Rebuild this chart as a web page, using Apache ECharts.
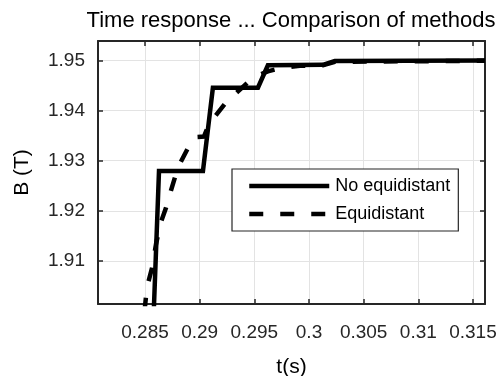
<!DOCTYPE html>
<html>
<head>
<meta charset="utf-8">
<script src="https://cdn.jsdelivr.net/npm/echarts@6/dist/echarts.min.js"></script>
<style>
  html, body { margin: 0; padding: 0; background: #fff; }
  #chart { width: 498px; height: 376px; }
</style>
</head>
<body>
<div id="chart"></div>
<script>
// Flux density B (T) against time t (s) for the two sampling methods
const tNoEquidistant = [0.2858, 0.28628, 0.29030, 0.29121, 0.29533, 0.29624, 0.29900, 0.30127, 0.30236, 0.3161];
const bNoEquidistant = [1.8999, 1.92795, 1.92795, 1.94453, 1.94453, 1.94900, 1.94905, 1.94910, 1.94984, 1.94995];

const tEquidistant = [0.28495, 0.28518, 0.28564, 0.28601, 0.28643, 0.28692, 0.28738, 0.28802, 0.28893, 0.28957,
                      0.29039, 0.29085, 0.29240, 0.29341, 0.29441, 0.29533, 0.29624, 0.29734, 0.29916, 0.30127,
                      0.30236, 0.3161];
const bEquidistant = [1.8999, 1.9048, 1.9086, 1.9134, 1.9176, 1.9206, 1.9241, 1.9287, 1.9325, 1.9347,
                      1.9348, 1.9373, 1.9416, 1.9436, 1.9456, 1.9470, 1.9478, 1.9484, 1.9489, 1.9490,
                      1.9497, 1.9499];

const xTicks = [0.285, 0.29, 0.295, 0.3, 0.305, 0.31, 0.315];
const yTicks = [1.91, 1.92, 1.93, 1.94, 1.95];

const xRange = [0.2807, 0.3161];
const yRange = [1.90144, 1.95384];

const seriesNames = ['No equidistant', 'Equidistant'];

const FONT = 'Liberation Sans, Arial, Helvetica, sans-serif';
const AXIS_COLOR = '#262626';
const LINE_WIDTH = 4.5;
const fmt = v => String(+(+v).toFixed(4));

const pairs = (xs, ys) => xs.map((x, i) => [x, ys[i]]);

const chart = echarts.init(document.getElementById('chart'), null, { renderer: 'canvas' });

const baseX = {
  type: 'value',
  min: xRange[0],
  max: xRange[1],
  axisLine: { show: true, onZero: false, lineStyle: { color: AXIS_COLOR, width: 2 } },
  axisTick: { show: true, inside: true, length: 5, customValues: xTicks, lineStyle: { color: AXIS_COLOR, width: 1.5 } }
};
const baseY = {
  type: 'value',
  min: yRange[0],
  max: yRange[1],
  axisLine: { show: true, onZero: false, lineStyle: { color: AXIS_COLOR, width: 2 } },
  axisTick: { show: true, inside: true, length: 5, customValues: yTicks, lineStyle: { color: AXIS_COLOR, width: 1.5 } }
};

chart.setOption({
  backgroundColor: '#ffffff',
  animation: false,
  title: {
    text: 'Time response ... Comparison of methods',
    left: 286, top: 5, textAlign: 'center',
    textStyle: { fontFamily: FONT, fontSize: 22, fontWeight: 'normal', color: '#000' }
  },
  grid: { left: 98, top: 41, right: 13, bottom: 72, containLabel: false, outerBoundsMode: 'none' },
  legend: {
    data: seriesNames,
    orient: 'vertical',
    left: 232, top: 169,
    padding: [8, 8, 8, 15],
    itemWidth: 80, itemHeight: 20, itemGap: 10,
    backgroundColor: '#fff',
    borderColor: AXIS_COLOR, borderWidth: 1.2,
    itemStyle: { opacity: 0 },
    lineStyle: { width: LINE_WIDTH },
    textStyle: { fontFamily: FONT, fontSize: 18, color: '#000', padding: [0, 0, 0, 1] }
  },
  xAxis: [
    Object.assign({}, baseX, {
      position: 'bottom',
      name: 't(s)', nameLocation: 'middle', nameGap: 53,
      nameTextStyle: { fontFamily: FONT, fontSize: 21, color: '#000' },
      axisLabel: { show: true, customValues: xTicks, formatter: fmt, margin: 19,
                   fontFamily: FONT, fontSize: 19, color: '#262626' },
      splitLine: { show: true, lineStyle: { color: '#e3e3e3', width: 1 } }
    }),
    Object.assign({}, baseX, {
      position: 'top',
      axisLabel: { show: false },
      splitLine: { show: false }
    })
  ],
  yAxis: [
    Object.assign({}, baseY, {
      position: 'left',
      name: 'B (T)', nameLocation: 'middle', nameGap: 65, nameRotate: 90,
      nameTextStyle: { fontFamily: FONT, fontSize: 21, color: '#000' },
      axisLabel: { show: true, customValues: yTicks, formatter: fmt, margin: 13,
                   fontFamily: FONT, fontSize: 19, color: '#262626' },
      splitLine: { show: true, lineStyle: { color: '#e3e3e3', width: 1 } }
    }),
    Object.assign({}, baseY, {
      position: 'right',
      axisLabel: { show: false },
      splitLine: { show: false }
    })
  ],
  series: [
    {
      name: seriesNames[0],
      type: 'line',
      xAxisIndex: 0, yAxisIndex: 0,
      data: pairs(tNoEquidistant, bNoEquidistant),
      showSymbol: false, symbol: 'none',
      clip: true,
      lineStyle: { color: '#000', width: LINE_WIDTH, type: 'solid', join: 'miter' },
      itemStyle: { color: '#000' }
    },
    {
      name: seriesNames[1],
      type: 'line',
      xAxisIndex: 0, yAxisIndex: 0,
      data: pairs(tEquidistant, bEquidistant),
      showSymbol: false, symbol: 'none',
      clip: true,
      lineStyle: { color: '#000', width: LINE_WIDTH, type: [14, 17], cap: 'butt', join: 'miter' },
      itemStyle: { color: '#000' }
    }
  ]
});
</script>
</body>
</html>
